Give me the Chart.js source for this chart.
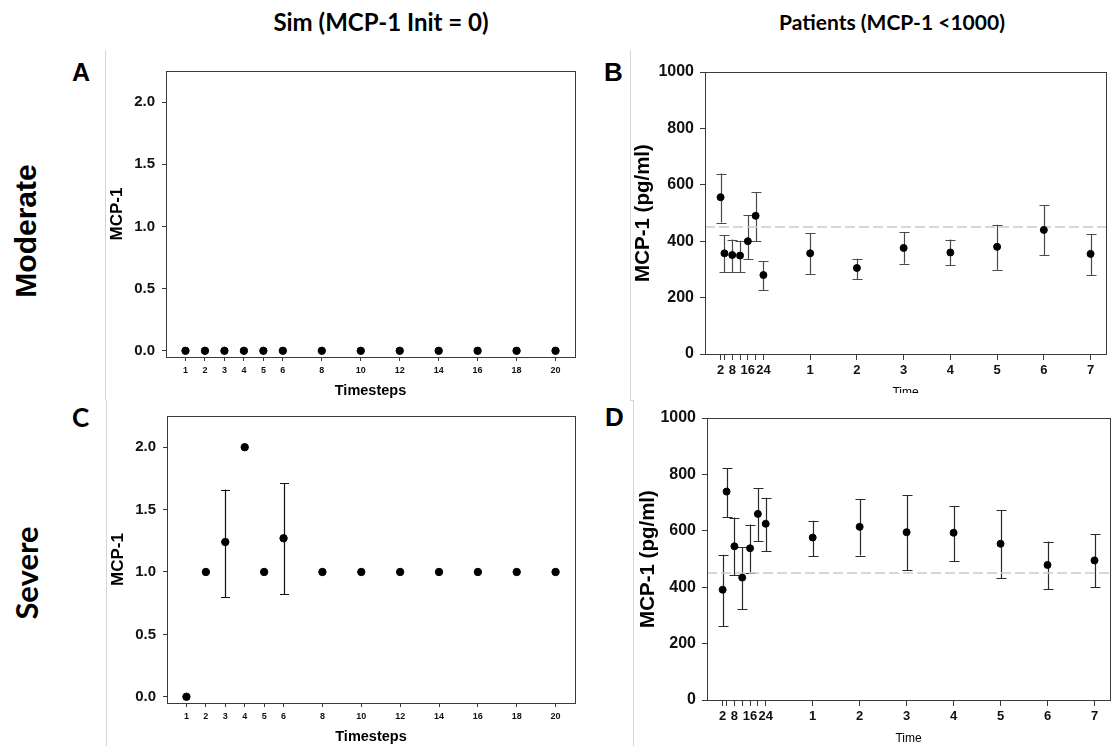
<!DOCTYPE html>
<html>
<head>
<meta charset="utf-8">
<script src="https://cdn.jsdelivr.net/npm/chart.js@4.4.1/dist/chart.umd.min.js"></script>
<style>
  body { margin: 0; background: #fff; width: 1115px; height: 746px; position: relative; overflow: hidden; }
  .txt { position: absolute; white-space: nowrap; color: #000; font-weight: bold; }
  .hdr { font-family: Lato, "Open Sans", sans-serif; transform: translate(-50%, -50%); }
  .row { transform: translate(-50%, -50%) rotate(-90deg); }
  .sep { position: absolute; background: #d6d6d6; }
  canvas { position: absolute; }
</style>
</head>
<body>

<div class="txt hdr" style="left:381px;top:21px;font-size:24px">Sim (MCP-1 Init = 0)</div>
<div class="txt hdr" style="left:892px;top:21px;font-size:21px">Patients (MCP-1 &lt;1000)</div>

<div class="txt row" style="left:26px;top:231px;font-family:'Liberation Sans',Arial;font-size:30px">Moderate</div>
<div class="txt row" style="left:26px;top:573px;font-family:Lato,sans-serif;font-size:31px">Severe</div>

<div class="txt" style="left:72px;top:58px;font-family:'Liberation Sans',Arial;font-size:25px">A</div>
<div class="txt" style="left:604px;top:57px;font-family:'Liberation Sans',Arial;font-size:26px">B</div>
<div class="txt" style="left:72px;top:401px;font-family:Lato,sans-serif;font-size:26px">C</div>
<div class="txt" style="left:605px;top:402px;font-family:'Liberation Sans',Arial;font-size:26px">D</div>

<div class="sep" style="left:105px;top:50px;width:1px;height:350px"></div>
<div class="sep" style="left:106px;top:400px;width:1px;height:346px"></div>
<div class="sep" style="left:630px;top:50px;width:1px;height:350px"></div>
<div class="sep" style="left:630px;top:400px;width:4px;height:1px"></div>
<div class="sep" style="left:633px;top:400px;width:1px;height:346px"></div>

<canvas id="chartA" width="480" height="350" style="left:106px;top:50px"></canvas>
<canvas id="chartC" width="479" height="351" style="left:107px;top:395px"></canvas>
<div style="position:absolute;left:631px;top:50px;width:484px;height:343px;overflow:hidden">
  <canvas id="chartB" width="484" height="350" style="left:0;top:0"></canvas>
</div>
<canvas id="chartD" width="481" height="350" style="left:634px;top:396px"></canvas>

<script>
// 模拟数据 (Sim)
const simSteps = [1, 2, 3, 4, 5, 6, 8, 10, 12, 14, 16, 18, 20];
const simModerate = [0, 0, 0, 0, 0, 0, 0, 0, 0, 0, 0, 0, 0];
const simSevere = [0, 1, 1.24, 2, 1, 1.27, 1, 1, 1, 1, 1, 1, 1];
const simSevereUpper = [null, null, 1.66, null, null, 1.71, null, null, null, null, null, null, null];
const simSevereLower = [null, null, 0.80, null, null, 0.82, null, null, null, null, null, null, null];
const simYTicks = [0, 0.5, 1, 1.5, 2];

// 病人数据 (Patients): 前7个是小时, 后7个是天
const patientHours = [2, 4, 8, 12, 16, 20, 24];
const patientDays = [1, 2, 3, 4, 5, 6, 7];
const hourLabels = ['2', '', '8', '', '16', '', '24'];

const moderateMean  = [556, 357, 351, 349, 400, 490, 280, 357, 305, 376, 360, 380, 440, 355];
const moderateUpper = [640, 422, 406, 402, 493, 573, 329, 428, 338, 431, 406, 458, 527, 425];
const moderateLower = [466, 291, 291, 291, 336, 399, 227, 284, 265, 320, 316, 299, 351, 280];

const severeMean  = [391, 739, 545, 434, 538, 660, 625, 576, 614, 595, 593, 554, 479, 495];
const severeUpper = [515, 823, 647, 541, 622, 752, 717, 636, 713, 726, 688, 672, 562, 589];
const severeLower = [262, 649, 442, 323, 452, 563, 528, 509, 512, 460, 492, 432, 393, 399];

const patientYTicks = [0, 200, 400, 600, 800, 1000];
const referenceLevel = 450;

// 时间轴: 0-24小时压缩在第一个单位里, 之后每天一个单位
const X_MIN = -0.25, X_MAX = 8.33;
function hourToAxis(h) { return h / 24; }
function dayToAxis(d) { return 1 + d; }
const patientX = patientHours.map(hourToAxis).concat(patientDays.map(dayToAxis));
const patientTickLabels = hourLabels.concat(patientDays.map(String));

Chart.defaults.font.family = "'Liberation Sans', Arial, sans-serif";
Chart.defaults.color = '#111';

// 画外框
const framePlugin = {
    id: 'frame',
    afterDraw(chart) {
        const { ctx, chartArea: a } = chart;
        ctx.save();
        ctx.strokeStyle = '#3a3a3a';
        ctx.lineWidth = 1;
        ctx.strokeRect(Math.round(a.left) + 0.5, Math.round(a.top) + 0.5,
            Math.round(a.right - a.left), Math.round(a.bottom - a.top));
        ctx.restore();
    }
};

// 误差线
const errorBarPlugin = {
    id: 'errorBars',
    beforeDatasetsDraw(chart) {
        const { ctx } = chart;
        const xs = chart.scales.x, ys = chart.scales.y;
        chart.data.datasets.forEach(ds => {
            if (!ds.errUpper) return;
            ctx.save();
            ctx.strokeStyle = ds.errColor || '#222';
            ctx.lineWidth = 1.2;
            ds.data.forEach((p, i) => {
                const hi = ds.errUpper[i], lo = ds.errLower[i];
                if (hi == null || lo == null) return;
                const x = Math.round(xs.getPixelForValue(p.x)) + 0.5;
                const yh = ys.getPixelForValue(hi), yl = ys.getPixelForValue(lo);
                const cap = ds.capHalf || 4.5;
                ctx.beginPath();
                ctx.moveTo(x, yh); ctx.lineTo(x, yl);
                ctx.moveTo(x - cap, Math.round(yh) + 0.5); ctx.lineTo(x + cap, Math.round(yh) + 0.5);
                ctx.moveTo(x - cap, Math.round(yl) + 0.5); ctx.lineTo(x + cap, Math.round(yl) + 0.5);
                ctx.stroke();
            });
            ctx.restore();
        });
    }
};

function toPoints(xs, ys) {
    return xs.map((x, i) => ({ x: x, y: ys[i] }));
}

function makePanel(id, cfg) {
    const datasets = [{
        data: toPoints(cfg.xValues, cfg.yValues),
        errUpper: cfg.upper,
        errLower: cfg.lower,
        errColor: cfg.errColor,
        capHalf: cfg.capHalf,
        backgroundColor: '#000',
        borderColor: '#000',
        pointRadius: cfg.pointRadius,
        order: 1
    }];
    if (cfg.refLine != null) {
        datasets.push({
            type: 'line',
            data: [{ x: cfg.xMin, y: cfg.refLine }, { x: cfg.xMax, y: cfg.refLine }],
            borderColor: '#cccccc',
            borderWidth: 1.5,
            borderDash: [10, 4],
            pointRadius: 0,
            order: 2
        });
    }
    return new Chart(document.getElementById(id), {
        type: 'scatter',
        data: { datasets: datasets },
        options: {
            responsive: false,
            animation: false,
            events: [],
            layout: { padding: cfg.padding },
            plugins: { legend: { display: false }, tooltip: { enabled: false } },
            scales: {
                x: {
                    type: 'linear',
                    min: cfg.xMin,
                    max: cfg.xMax,
                    afterBuildTicks: s => { s.ticks = cfg.xTicks.map(v => ({ value: v })); },
                    afterFit: s => { s.height = cfg.xAxisHeight; },
                    ticks: {
                        autoSkip: false,
                        maxRotation: 0,
                        padding: cfg.xTickPad,
                        font: { size: cfg.xTickSize, weight: 'bold' },
                        callback: (v, i) => cfg.xTickLabels[i]
                    },
                    grid: { drawOnChartArea: false, drawTicks: true, tickLength: cfg.xTickLen, color: '#3a3a3a' },
                    border: { display: true, color: '#3a3a3a' },
                    title: {
                        display: true,
                        text: cfg.xTitle,
                        font: cfg.xTitleFont,
                        color: '#000',
                        padding: { top: 0, bottom: cfg.xTitlePad }
                    }
                },
                y: {
                    min: cfg.yMin,
                    max: cfg.yMax,
                    afterBuildTicks: s => { s.ticks = cfg.yTicks.map(v => ({ value: v })); },
                    afterFit: s => { s.width = cfg.yAxisWidth; },
                    ticks: {
                        padding: cfg.yTickPad,
                        font: { size: cfg.yTickSize, weight: 'bold' },
                        callback: cfg.yFormat
                    },
                    grid: { drawOnChartArea: false, drawTicks: true, tickLength: cfg.yTickLen, color: '#3a3a3a' },
                    border: { display: true, color: '#3a3a3a' },
                    title: {
                        display: true,
                        text: cfg.yTitle,
                        font: { size: cfg.yTitleSize, weight: 'bold' },
                        color: '#000',
                        padding: { top: cfg.yTitlePad, bottom: 0 }
                    }
                }
            }
        },
        plugins: [framePlugin, errorBarPlugin]
    });
}

const simCommon = {
    xValues: simSteps,
    xMin: 0, xMax: 21,
    xTicks: simSteps,
    xTickLabels: simSteps.map(String),
    xTickSize: 9, xTickPad: 4, xTickLen: 4,
    xTitle: 'Timesteps',
    xTitleFont: { size: 14.5, weight: 'bold' },
    xTitlePad: 0,
    xAxisHeight: 43,
    yMin: -0.05, yMax: 2.25,
    yTicks: simYTicks,
    yFormat: v => v.toFixed(1),
    yTickSize: 15, yTickPad: 7, yTickLen: 4,
    yTitle: 'MCP-1', yTitleSize: 17, yTitlePad: 1,
    yAxisWidth: 60,
    pointRadius: 3.7,
    capHalf: 4.5,
    errColor: '#111',
    padding: { top: 21, right: 11, bottom: 0, left: 0 }
};

const patientCommon = {
    xValues: patientX,
    xMin: X_MIN, xMax: X_MAX,
    xTicks: patientX,
    xTickLabels: patientTickLabels,
    xTickSize: 13, xTickPad: 3, xTickLen: 6,
    xTitle: 'Time',
    xTitleFont: { size: 12, weight: 'normal' },
    xTitlePad: 0,
    xAxisHeight: 46,
    yMin: 0, yMax: 1000,
    yTicks: patientYTicks,
    yFormat: v => String(v),
    yTickSize: 16, yTickPad: 6, yTickLen: 5,
    yTitle: 'MCP-1 (pg/ml)', yTitleSize: 20.5, yTitlePad: 0,
    pointRadius: 3.5,
    capHalf: 5,
    errColor: '#4a4a4a',
    refLine: referenceLevel
};

makePanel('chartA', Object.assign({}, simCommon, {
    yValues: simModerate,
    upper: simModerate.map(() => null),
    lower: simModerate.map(() => null)
}));

makePanel('chartC', Object.assign({}, simCommon, {
    yValues: simSevere,
    upper: simSevereUpper,
    lower: simSevereLower
}));

makePanel('chartB', Object.assign({}, patientCommon, {
    yValues: moderateMean,
    upper: moderateUpper,
    lower: moderateLower,
    yAxisWidth: 74,
    padding: { top: 22, right: 9, bottom: 0, left: 0 }
}));

makePanel('chartD', Object.assign({}, patientCommon, {
    yValues: severeMean,
    upper: severeUpper,
    lower: severeLower,
    yAxisWidth: 73,
    yTitlePad: 2,
    errColor: '#2a2a2a',
    padding: { top: 22, right: 5, bottom: 0, left: 0 }
}));
</script>
</body>
</html>
